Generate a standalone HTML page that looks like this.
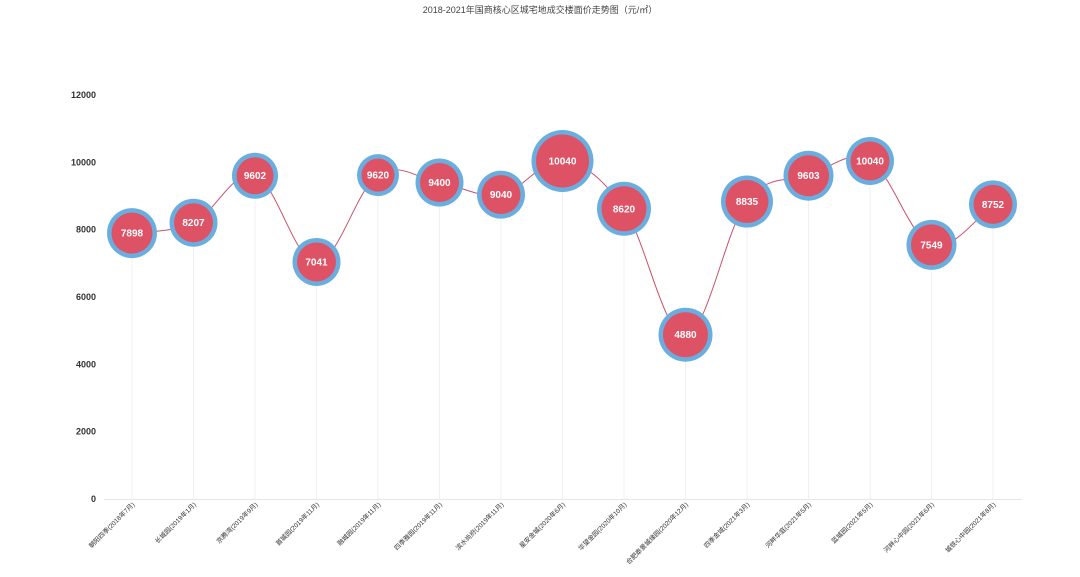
<!DOCTYPE html>
<html><head><meta charset="utf-8"><style>
body{margin:0;background:#fff;width:1080px;height:572px;overflow:hidden}
svg text{font-family:"Liberation Sans","Noto Sans CJK SC",sans-serif}
</style></head><body>
<svg id="chart" width="1080" height="572" xmlns="http://www.w3.org/2000/svg">
<text x="540" y="13" text-anchor="middle" font-size="9" fill="#444">2018-2021年国商核心区城宅地成交楼面价走势图（元/㎡）</text>
<g id="grid"></g><g id="axes"></g><path id="line" fill="none" stroke="#c9506a" stroke-width="1"/><g id="bubbles"></g>
</svg>
<script>
const categories=["朝阳四季(2018年7月)","长城园(2019年1月)","京腾湾(2019年9月)","首城园(2019年11月)","融城园(2019年11月)","四季雅园(2019年11月)","滨水尚府(2019年11月)","星安金城(2020年6月)","华望金园(2020年10月)","合肥泰景城缘园(2020年12月)","四季金域(2021年3月)","河畔华庭(2021年5月)","蓝城园(2021年5月)","河畔心中园(2021年6月)","城铁心中园(2021年8月)"];
const values=[7898,8207,9602,7041,9620,9400,9040,10040,8620,4880,8835,9603,10040,7549,8752];
const sizes=[25,24,23,24,21,24,24,31,27,27,26,25,24,25,24];
const yTicks=[0,2000,4000,6000,8000,10000,12000];
const NS="http://www.w3.org/2000/svg";
const x=i=>132+i*(993-132)/(categories.length-1);
const y=v=>499-v*(499-95)/12000;
function mk(t,a,p){const e=document.createElementNS(NS,t);for(const k in a)e.setAttribute(k,a[k]);p.appendChild(e);return e;}
const grid=document.getElementById('grid'),axes=document.getElementById('axes');
mk('line',{x1:104,x2:1022,y1:499.5,y2:499.5,stroke:'#e6e6e6'},axes);
yTicks.forEach(t=>{const e=mk('text',{x:96,y:y(t)+3,'text-anchor':'end','font-size':9,'font-weight':'bold',fill:'#333'},axes);e.textContent=t;

});
categories.forEach((c,i)=>{mk('line',{x1:x(i),x2:x(i),y1:y(values[i]),y2:499,stroke:'#f0f0f0'},grid);
const t=mk('text',{x:x(i)+3,y:505,'text-anchor':'end','font-size':6.5,fill:'#333',transform:`rotate(-45 ${x(i)+3} 505)`},axes);t.textContent=c;

});
// cardinal spline
const pts=values.map((v,i)=>[x(i),y(v)]);let d=`M${pts[0][0]},${pts[0][1]}`;
for(let i=0;i<pts.length-1;i++){const p0=pts[Math.max(0,i-1)],p1=pts[i],p2=pts[i+1],p3=pts[Math.min(pts.length-1,i+2)],k=0.18;
d+=` C${p1[0]+(p2[0]-p0[0])*k},${p1[1]+(p2[1]-p0[1])*k} ${p2[0]-(p3[0]-p1[0])*k},${p2[1]-(p3[1]-p1[1])*k} ${p2[0]},${p2[1]}`;}
document.getElementById('line').setAttribute('d',d);
const b=document.getElementById('bubbles');
values.forEach((v,i)=>{const g=mk('g',{},b);


mk('circle',{cx:x(i),cy:y(v),r:sizes[i],fill:'#6aaee0'},g);
mk('circle',{cx:x(i),cy:y(v),r:sizes[i]-4.5,fill:'#de5266'},g);
const t=mk('text',{x:x(i),y:y(v)+3.5,'text-anchor':'middle','font-size':10,'font-weight':'bold',fill:'#fff'},g);t.textContent=v;});
</script>
</body></html>
